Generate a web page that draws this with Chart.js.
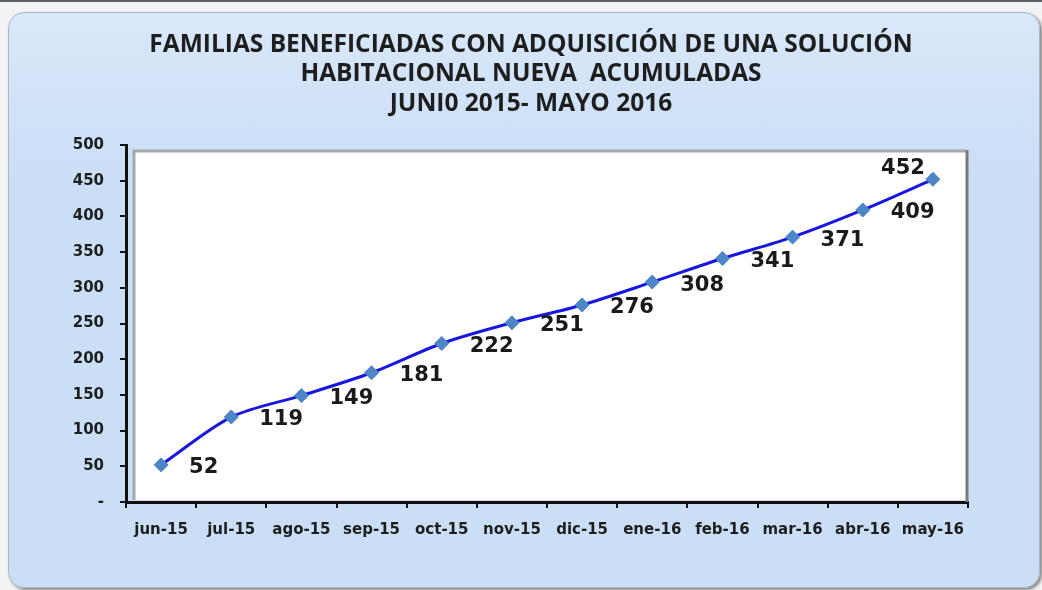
<!DOCTYPE html>
<html>
<head>
<meta charset="utf-8">
<script src="https://cdn.jsdelivr.net/npm/chart.js@4.4.1/dist/chart.umd.min.js"></script>
<style>
  body{margin:0;background:#f3f3f3;width:1042px;height:590px;overflow:hidden;position:relative;}
  #topline{position:absolute;left:0;top:0;width:1042px;height:2px;background:#5a5e66;}
  #panel{position:absolute;left:8px;top:12px;width:1030px;height:574px;border-radius:16px;
    background:linear-gradient(#d9e8fa,#cadef6 30%,#cadef6);
    border:1px solid #aab6c6;box-shadow:2px 2px 3px rgba(0,0,0,0.45);}
  #chartCanvas{position:absolute;left:0;top:0;}
</style>
</head>
<body>
<div id="topline"></div>
<div id="panel"></div>
<canvas id="chartCanvas" width="1042" height="590"></canvas>
<script>
//data
const months=['jun-15','jul-15','ago-15','sep-15','oct-15','nov-15','dic-15','ene-16','feb-16','mar-16','abr-16','may-16'];
const familias=[52,119,149,181,222,251,276,308,341,371,409,452];
const titleLines=['FAMILIAS BENEFICIADAS CON ADQUISICIÓN DE UNA SOLUCIÓN','HABITACIONAL NUEVA  ACUMULADAS','JUNI0 2015- MAYO 2016'];
const yMin=0, yMax=500, yStep=50;

//title drawn centred on the panel (not on the chart box)
const panelTitle={
    id:'panelTitle',
    afterDraw(chart){
        const ctx=chart.ctx;
        ctx.save();
        ctx.font='bold 24.5px "Open Sans"';
        ctx.fillStyle='#1e1e1e';
        ctx.textAlign='center';
        ctx.textBaseline='middle';
        titleLines.forEach((t,i)=>{
            ctx.fillText(t,531,45+i*29.5);
        });
        ctx.restore();
    }
};

//white plot box behind the line
const plotBox={
    id:'plotBox',
    beforeDatasetsDraw(chart){
        const ctx=chart.ctx, a=chart.chartArea;
        ctx.save();
        ctx.fillStyle='#ffffff';
        ctx.fillRect(a.left+7,a.top+5,a.right-a.left-7,a.bottom-a.top-7);
        ctx.strokeStyle='#a8a8a8';
        ctx.lineWidth=3;
        ctx.beginPath();
        ctx.moveTo(a.left+8,a.bottom-2);
        ctx.lineTo(a.left+8,a.top+6);
        ctx.lineTo(a.right-2,a.top+6);
        ctx.stroke();
        ctx.strokeStyle='#7a7a7a';
        ctx.beginPath();
        ctx.moveTo(a.right-1,a.top+5);
        ctx.lineTo(a.right-1,a.bottom);
        ctx.stroke();
        ctx.restore();
    }
};

//value labels next to the points
const valueLabels={
    id:'valueLabels',
    afterDatasetsDraw(chart){
        const ctx=chart.ctx;
        const meta=chart.getDatasetMeta(0);
        ctx.save();
        ctx.font='bold 21px "DejaVu Sans"';
        ctx.fillStyle='#1a1a1a';
        ctx.textBaseline='middle';
        meta.data.forEach((pt,i)=>{
            const last=i===meta.data.length-1;
            if(last){
                ctx.textAlign='right';
                ctx.fillText(familias[i],pt.x-8,pt.y-11);
            }else{
                ctx.textAlign='left';
                ctx.fillText(familias[i],pt.x+28,pt.y+3);
            }
        });
        ctx.restore();
    }
};

const config={
    type:'line',
    data:{
        labels:months,
        datasets:[{
            data:familias,
            borderColor:'#1717e0',
            borderWidth:3,
            tension:0.3,
            pointStyle:'rectRot',
            pointRadius:7,
            pointBackgroundColor:'#4d86c6',
            pointBorderColor:'#4d86c6',
            pointBorderWidth:1,
            fill:false
        }]
    },
    options:{
        responsive:false,
        animation:false,
        layout:{padding:{top:145,right:74,bottom:38,left:0}},
        plugins:{
            legend:{display:false},
            tooltip:{enabled:false},
            title:{display:false}
        },
        scales:{
            x:{
                offset:true,
                grid:{offset:true,drawOnChartArea:false,drawTicks:true,tickLength:6,color:'#111',lineWidth:2},
                border:{color:'#111',width:3},
                ticks:{color:'#1e1e1e',font:{family:'"DejaVu Sans"',size:15,weight:'bold'},padding:13,maxRotation:0,autoSkip:false}
            },
            y:{
                min:yMin,max:yMax,
                afterFit(s){s.width=126;},
                grid:{drawOnChartArea:false,drawTicks:true,tickLength:6,color:'#111',lineWidth:2},
                border:{color:'#111',width:3},
                ticks:{stepSize:yStep,color:'#1e1e1e',padding:16,
                    font:{family:'"DejaVu Sans"',size:15,weight:'bold'},
                    callback:v=>v===0?'-':v}
            }
        }
    },
    plugins:[plotBox,valueLabels,panelTitle]
};

var myChart=new Chart(document.getElementById('chartCanvas'),config);
</script>
</body>
</html>
